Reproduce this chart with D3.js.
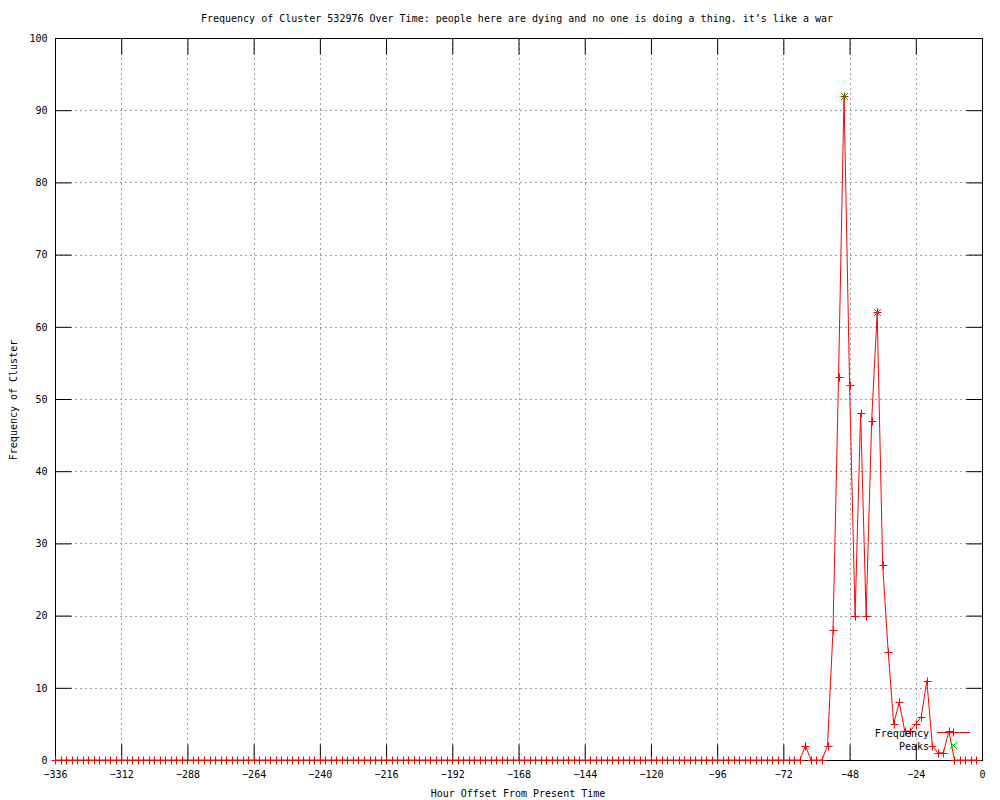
<!DOCTYPE html>
<html>
<head>
<meta charset="utf-8">
<script src="https://cdn.jsdelivr.net/npm/d3@7"></script>
<style>
  html, body { margin: 0; padding: 0; background: #fff; }
  svg { display: block; }
  text { font-family: "DejaVu Sans Mono", "Liberation Mono", monospace; font-size: 10px; fill: #000; }
</style>
</head>
<body>
<svg id="chart" width="1000" height="800"></svg>
<script>
const titleText = "Frequency of Cluster 532976 Over Time: people here are dying and no one is doing a thing. it\u2019s like a war";
const xLabel = "Hour Offset From Present Time";
const yLabel = "Frequency of Cluster";

const hours = [
  -336,-334,-332,-330,-328,-326,-324,-322,-320,-318,-316,-314,-312,-310,-308,-306,-304,-302,-300,-298,
  -296,-294,-292,-290,-288,-286,-284,-282,-280,-278,-276,-274,-272,-270,-268,-266,-264,-262,-260,-258,
  -256,-254,-252,-250,-248,-246,-244,-242,-240,-238,-236,-234,-232,-230,-228,-226,-224,-222,-220,-218,
  -216,-214,-212,-210,-208,-206,-204,-202,-200,-198,-196,-194,-192,-190,-188,-186,-184,-182,-180,-178,
  -176,-174,-172,-170,-168,-166,-164,-162,-160,-158,-156,-154,-152,-150,-148,-146,-144,-142,-140,-138,
  -136,-134,-132,-130,-128,-126,-124,-122,-120,-118,-116,-114,-112,-110,-108,-106,-104,-102,-100,-98,
  -96,-94,-92,-90,-88,-86,-84,-82,-80,-78,-76,-74,-72,-70,-68,-66,-64,-62,-60,-58,
  -56,-54,-52,-50,-48,-46,-44,-42,-40,-38,-36,-34,-32,-30,-28,-26,-24,-22,-20,-18,
  -16,-14,-12,-10,-8,-6,-4,-2
];
const frequency = [
  0,0,0,0,0,0,0,0,0,0,0,0,0,0,0,0,0,0,0,0,
  0,0,0,0,0,0,0,0,0,0,0,0,0,0,0,0,0,0,0,0,
  0,0,0,0,0,0,0,0,0,0,0,0,0,0,0,0,0,0,0,0,
  0,0,0,0,0,0,0,0,0,0,0,0,0,0,0,0,0,0,0,0,
  0,0,0,0,0,0,0,0,0,0,0,0,0,0,0,0,0,0,0,0,
  0,0,0,0,0,0,0,0,0,0,0,0,0,0,0,0,0,0,0,0,
  0,0,0,0,0,0,0,0,0,0,0,0,0,0,0,0,2,0,0,0,
  2,18,53,92,52,20,48,20,47,62,27,15,5,8,4,4,5,6,11,2,
  1,1,4,0,0,0,0,0
];
const peakHours = [-50, -38];
const peakValues = [92, 62];

const xTicks = [-336,-312,-288,-264,-240,-216,-192,-168,-144,-120,-96,-72,-48,-24,0];
const yTicks = [0,10,20,30,40,50,60,70,80,90,100];

const svg = d3.select("#chart");
const L = 55, R = 982, T = 38, B = 760;

const x = d3.scaleLinear().domain([-336, 0]).range([L, R]);
const y = d3.scaleLinear().domain([0, 100]).range([B, T]);

// grid
const grid = svg.append("g");
grid.selectAll("line.gx").data(xTicks.filter(d => d > -336 && d < 0)).enter().append("line")
  .attr("x1", d => Math.round(x(d)) + 0.5).attr("x2", d => Math.round(x(d)) + 0.5)
  .attr("y1", T).attr("y2", B)
  .attr("stroke", "#a0a0a0").attr("stroke-width", 1).attr("stroke-dasharray", "2,3");
grid.selectAll("line.gy").data(yTicks.filter(d => d > 0 && d < 100)).enter().append("line")
  .attr("x1", L).attr("x2", R)
  .attr("y1", d => Math.round(y(d)) + 0.5).attr("y2", d => Math.round(y(d)) + 0.5)
  .attr("stroke", "#a0a0a0").attr("stroke-width", 1).attr("stroke-dasharray", "2,3");

// axes via d3 axis generators
const axB = svg.append("g").attr("transform", `translate(0,${B + 0.5})`)
  .call(d3.axisBottom(x).tickValues(xTicks).tickSizeInner(-16).tickSizeOuter(0).tickPadding(10).tickFormat(d3.format("d")));
const axT = svg.append("g").attr("transform", `translate(0,${T + 0.5})`)
  .call(d3.axisTop(x).tickValues(xTicks).tickSizeInner(-16).tickSizeOuter(0).tickFormat(""));
const axL = svg.append("g").attr("transform", `translate(${L + 0.5},0)`)
  .call(d3.axisLeft(y).tickValues(yTicks).tickSizeInner(-16).tickSizeOuter(0).tickPadding(8).tickFormat(d3.format("d")));
const axR = svg.append("g").attr("transform", `translate(${R + 0.5},0)`)
  .call(d3.axisRight(y).tickValues(yTicks).tickSizeInner(-16).tickSizeOuter(0).tickFormat(""));
[axB, axT, axL, axR].forEach(a => {
  a.select(".domain").remove();
  a.selectAll("line").attr("stroke", "#000");
  a.selectAll("text").attr("font-family", "DejaVu Sans Mono").attr("font-size", 10).attr("fill", "#000");
});

// border
svg.append("rect").attr("x", L + 0.5).attr("y", T + 0.5).attr("width", R - L).attr("height", B - T)
  .attr("fill", "none").attr("stroke", "#000").attr("stroke-width", 1);

// data line
const pts = hours.map((h, i) => [h, frequency[i]]);
svg.append("path").datum(pts)
  .attr("d", d3.line().x(d => x(d[0])).y(d => y(d[1])))
  .attr("fill", "none").attr("stroke", "#ff0000").attr("stroke-width", 1);

const plusPath = (cx, cy, s) => `M${cx - s},${cy}H${cx + s}M${cx},${cy - s}V${cy + s}`;
const crossPath = (cx, cy, s) => `M${cx - s},${cy - s}L${cx + s},${cy + s}M${cx - s},${cy + s}L${cx + s},${cy - s}`;

svg.append("g").selectAll("path").data(pts).enter().append("path")
  .attr("d", d => plusPath(Math.round(x(d[0])) + 0.5, Math.round(y(d[1])) + 0.5, 4))
  .attr("stroke", "#ff0000").attr("stroke-width", 1).attr("fill", "none");

// peaks
svg.append("g").selectAll("path").data(peakHours.map((h, i) => [h, peakValues[i]])).enter().append("path")
  .attr("d", d => crossPath(Math.round(x(d[0])) + 0.5, Math.round(y(d[1])) + 0.5, 3.5))
  .attr("stroke", "#00c000").attr("stroke-width", 1).attr("fill", "none");

// legend
const lg = svg.append("g");
lg.append("text").attr("x", 929).attr("y", 736.5).attr("text-anchor", "end").text("Frequency");
lg.append("line").attr("x1", 937).attr("x2", 970).attr("y1", 732.5).attr("y2", 732.5)
  .attr("stroke", "#ff0000").attr("stroke-width", 1);
lg.append("path").attr("d", plusPath(953.5, 732.5, 4)).attr("stroke", "#ff0000").attr("fill", "none");
lg.append("text").attr("x", 929).attr("y", 749.5).attr("text-anchor", "end").text("Peaks");
lg.append("path").attr("d", crossPath(953.5, 745.5, 3.5)).attr("stroke", "#00c000").attr("fill", "none");

// titles
svg.append("text").attr("x", 517).attr("y", 22).attr("text-anchor", "middle").text(titleText);
svg.append("text").attr("x", 518).attr("y", 797).attr("text-anchor", "middle").text(xLabel);
svg.append("text").attr("transform", "translate(17,400) rotate(-90)").attr("text-anchor", "middle").text(yLabel);
</script>
</body>
</html>
